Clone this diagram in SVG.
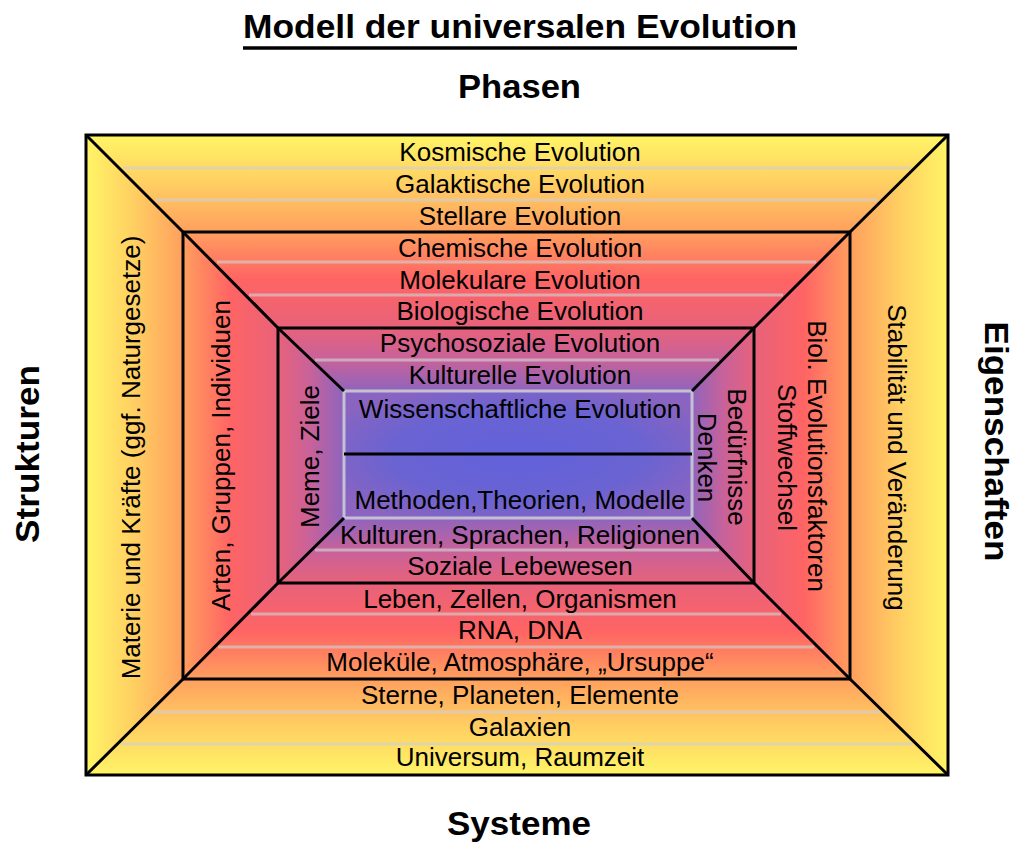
<svg xmlns="http://www.w3.org/2000/svg" width="1024" height="852" viewBox="0 0 1024 852">
  <defs>
    <linearGradient id="gTop" gradientUnits="userSpaceOnUse" x1="0" y1="135" x2="0" y2="455">
      <stop offset="0" stop-color="#fff566"/>
      <stop offset="0.15" stop-color="#ffcf62"/>
      <stop offset="0.30" stop-color="#ffa05e"/>
      <stop offset="0.45" stop-color="#ff6464"/>
      <stop offset="0.60" stop-color="#e8627a"/>
      <stop offset="0.70" stop-color="#c8629a"/>
      <stop offset="0.80" stop-color="#9064bc"/>
      <stop offset="1" stop-color="#6464d8"/>
    </linearGradient>
    <linearGradient id="gBottom" href="#gTop" gradientUnits="userSpaceOnUse" x1="0" y1="775" x2="0" y2="455"/>
    <linearGradient id="gLeft" href="#gTop" gradientUnits="userSpaceOnUse" x1="86" y1="0" x2="406" y2="0"/>
    <linearGradient id="gRight" href="#gTop" gradientUnits="userSpaceOnUse" x1="948" y1="0" x2="628" y2="0"/>
    <radialGradient id="gCenter" cx="0.5" cy="0.5" r="0.6">
      <stop offset="0" stop-color="#6262dc"/>
      <stop offset="0.6" stop-color="#6a63d2"/>
      <stop offset="1" stop-color="#8a64c0"/>
    </radialGradient>
  </defs>
  <style>
    .band { font-family: "Liberation Sans", Arial, sans-serif; font-size: 26px; fill: #000; text-anchor: middle; }
    .head { font-family: "Liberation Sans", Arial, sans-serif; font-size: 34px; font-weight: bold; fill: #000; text-anchor: middle; }
    .sep { stroke: #d0d0d0; stroke-opacity: 0.65; stroke-width: 3; fill: none; }
    .blk { stroke: #000; stroke-width: 3; fill: none; stroke-linejoin: miter; }
  </style>

  <g id="title">
    <text class="head" x="520" y="38" textLength="554" lengthAdjust="spacingAndGlyphs">Modell der universalen Evolution</text>
    <line x1="243" y1="48" x2="797" y2="48" stroke="#000" stroke-width="3.5"/>
  </g>
  <g id="label-phasen"><text class="head" x="519.5" y="98" textLength="123" lengthAdjust="spacingAndGlyphs">Phasen</text></g>
  <g id="label-systeme"><text class="head" x="519" y="835" textLength="144" lengthAdjust="spacingAndGlyphs">Systeme</text></g>
  <g id="label-strukturen"><text class="head" transform="translate(39,454) rotate(-90)" textLength="178" lengthAdjust="spacingAndGlyphs">Strukturen</text></g>
  <g id="label-eigenschaften"><text class="head" transform="translate(985,441.5) rotate(90)" textLength="240" lengthAdjust="spacingAndGlyphs">Eigenschaften</text></g>

  <g id="fills">
    <polygon points="86,135 948,135 850,232 754,328 692,391 344,391 278,328 183,232" fill="url(#gTop)"/>
    <polygon points="86,775 948,775 850,679 754,583 692,518 344,518 278,583 183,679" fill="url(#gBottom)"/>
    <polygon points="86,135 183,232 278,328 344,391 344,518 278,583 183,679 86,775" fill="url(#gLeft)"/>
    <polygon points="948,135 850,232 754,328 692,391 692,518 754,583 850,679 948,775" fill="url(#gRight)"/>
    <rect x="344" y="391" width="348" height="127" fill="url(#gCenter)"/>
  </g>

  <g id="separators">
    <line class="sep" x1="123" y1="168" x2="911" y2="168"/>
    <line class="sep" x1="155" y1="200" x2="878" y2="200"/>
    <line class="sep" x1="217" y1="262" x2="816" y2="262"/>
    <line class="sep" x1="249" y1="295" x2="783" y2="295"/>
    <line class="sep" x1="315" y1="360" x2="719" y2="360"/>
    <line class="sep" x1="315" y1="550" x2="719" y2="550"/>
    <line class="sep" x1="251" y1="614" x2="781" y2="614"/>
    <line class="sep" x1="218" y1="647" x2="814" y2="647"/>
    <line class="sep" x1="153" y1="712" x2="880" y2="712"/>
    <line class="sep" x1="121" y1="744" x2="913" y2="744"/>
    <rect x="344" y="391" width="348" height="127" fill="none" stroke="#c4c0d4" stroke-width="3"/>
  </g>

  <g id="frames">
    <rect class="blk" x="86" y="135" width="862" height="640" stroke-width="3.5"/>
    <rect class="blk" x="183" y="232" width="667" height="447"/>
    <rect class="blk" x="278" y="328" width="476" height="255"/>
    <line class="blk" x1="344" y1="454" x2="692" y2="454"/>
    <path class="blk" d="M86,135 L183,232 L278,328 L344,391 M948,135 L850,232 L754,328 L692,391 M86,775 L183,679 L278,583 L344,518 M948,775 L850,679 L754,583 L692,518"/>
  </g>

  <g id="phases">
    <text class="band" x="520" y="161">Kosmische Evolution</text>
    <text class="band" x="520" y="193">Galaktische Evolution</text>
    <text class="band" x="520" y="225">Stellare Evolution</text>
    <text class="band" x="520" y="257">Chemische Evolution</text>
    <text class="band" x="520" y="289">Molekulare Evolution</text>
    <text class="band" x="520" y="320">Biologische Evolution</text>
    <text class="band" x="520" y="352">Psychosoziale Evolution</text>
    <text class="band" x="520" y="384">Kulturelle Evolution</text>
    <text class="band" x="520" y="418">Wissenschaftliche Evolution</text>
  </g>
  <g id="systems">
    <text class="band" x="520" y="509">Methoden,Theorien, Modelle</text>
    <text class="band" x="520" y="544">Kulturen, Sprachen, Religionen</text>
    <text class="band" x="520" y="575">Soziale Lebewesen</text>
    <text class="band" x="520" y="608">Leben, Zellen, Organismen</text>
    <text class="band" x="520" y="639">RNA, DNA</text>
    <text class="band" x="520" y="671">Moleküle, Atmosphäre, „Ursuppe“</text>
    <text class="band" x="520" y="704">Sterne, Planeten, Elemente</text>
    <text class="band" x="520" y="736">Galaxien</text>
    <text class="band" x="520" y="766">Universum, Raumzeit</text>
  </g>
  <g id="structures">
    <text class="band" transform="translate(140,457.5) rotate(-90)">Materie und Kräfte (ggf. Naturgesetze)</text>
    <text class="band" transform="translate(230,455.5) rotate(-90)">Arten, Gruppen, Individuen</text>
    <text class="band" transform="translate(319,456.5) rotate(-90)">Meme, Ziele</text>
  </g>
  <g id="properties">
    <text class="band" transform="translate(888,457.5) rotate(90)">Stabilität und Veränderung</text>
    <text class="band" transform="translate(808,456) rotate(90)">Biol. Evolutionsfaktoren</text>
    <text class="band" transform="translate(778,457.5) rotate(90)">Stoffwechsel</text>
    <text class="band" transform="translate(728,457) rotate(90)">Bedürfnisse</text>
    <text class="band" transform="translate(698,457.5) rotate(90)">Denken</text>
  </g>
</svg>
